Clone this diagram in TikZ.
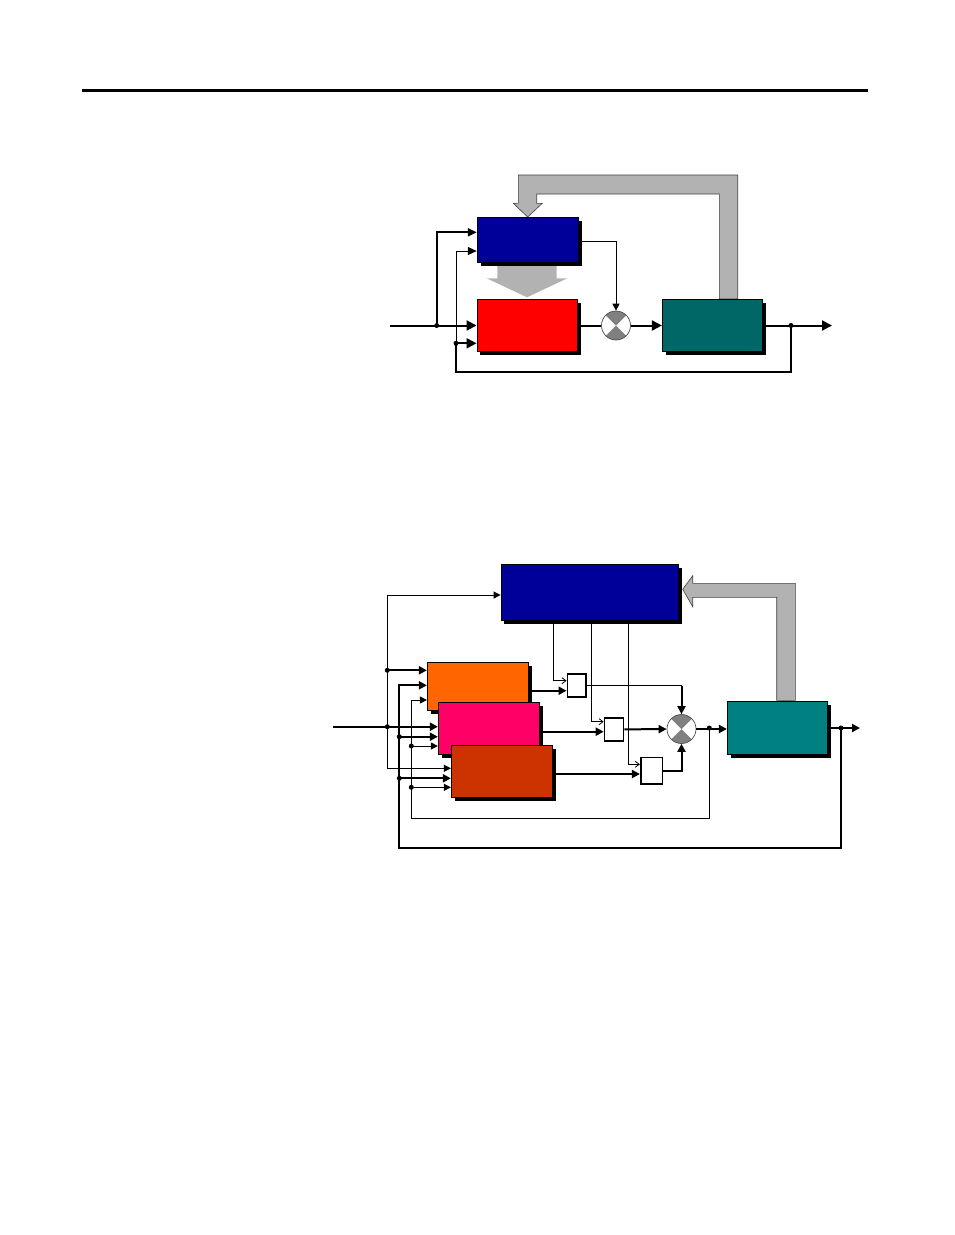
\documentclass[tikz,border=0pt]{standalone}
\usetikzlibrary{arrows.meta,shadows,calc}
\definecolor{blueA}{RGB}{0,0,153}
\definecolor{redA}{RGB}{255,0,0}
\definecolor{tealA}{RGB}{0,102,102}
\definecolor{tealB}{RGB}{0,128,128}
\definecolor{orangeA}{RGB}{255,102,0}
\definecolor{pinkA}{RGB}{255,0,102}
\definecolor{brownA}{RGB}{204,51,0}
\definecolor{bandgray}{RGB}{178,178,178}
\definecolor{sumgray}{RGB}{128,128,128}
\begin{document}
\begin{tikzpicture}[x=1pt,y=-1pt,
  box/.style={draw=black, line width=0.8pt, inner sep=0pt,
    drop shadow={shadow xshift=3.5pt, shadow yshift=-3.5pt, fill=black, opacity=1}},
  mbox/.style={draw=black, line width=1.6pt, fill=white, inner sep=0pt},
  sumj/.style={circle, draw=black!70, line width=0.7pt, fill=white, minimum size=29pt, inner sep=0pt,
    path picture={
      \fill[sumgray] (path picture bounding box.center) -- ++(-20pt,20pt) -- ++(40pt,0pt) -- cycle;
      \fill[sumgray] (path picture bounding box.center) -- ++(-20pt,-20pt) -- ++(40pt,0pt) -- cycle;
    }},
  dotn/.style={circle, fill=black, inner sep=0pt, minimum size=5pt},
  thkT/.style={line width=2pt, -{Triangle[length=10pt,width=10pt]}},
  thk/.style={line width=2pt, -{Triangle[length=8pt,width=8pt]}},
  thn/.style={line width=1pt, -{Triangle[length=7pt,width=7pt]}},
  opn/.style={line width=0.8pt, -{Straight Barb[length=4pt,width=6pt]}},
  band/.style={fill=bandgray, draw=black!75, line width=0.6pt}
]
\useasboundingbox (0,0) rectangle (954,1235);

% top rule
\draw[line width=3pt] (82,90.5) -- (868,90.5);

%%%%%%%%%%%%%%%% TOP DIAGRAM %%%%%%%%%%%%%%%%
% feedback band
\path[band] (737.7,299) -- (737.7,175) -- (518.3,175) -- (518.3,203.3) -- (513.3,203.3)
  -- (527.7,217) -- (542.3,203.3) -- (536.7,203.3) -- (536.7,194) -- (719.3,194) -- (719.3,299) -- cycle;
% middle arrow
\fill[bandgray] (497.3,266) -- (556.7,266) -- (556.7,278.3) -- (567.3,278.3) -- (527,297.3)
  -- (486.7,278.3) -- (497.3,278.3) -- cycle;

\node[box, fill=blueA, minimum width=101.7pt, minimum height=45.3pt] (ctrl1) at (528,239.7) {};
\node[box, fill=redA, minimum width=100.7pt, minimum height=52.3pt] (reg1) at (527.3,325.5) {};
\node[box, fill=tealA, minimum width=100.4pt, minimum height=52pt] (plant1) at (712.5,325.5) {};
\node[sumj] (sum1) at (616,325.5) {};

\coordinate (in1) at (390,325.5);
\coordinate (out1) at (832,325.5);
\node[dotn] (j1) at (436.7,325.5) {};
\node[dotn] (j2) at (456,343.3) {};
\node[dotn] (fb1) at (791,325.5) {};
\coordinate (fbc) at (456,372.3);

\draw[thkT] (in1) -- (in1 -| reg1.west);
\draw[line width=2pt, -{Triangle[length=9pt,width=8pt]}] (j1.center) |- ([yshift=7.4pt]ctrl1.west);
\draw[thn, -{Triangle[length=9pt,width=8pt]}] (j2.center) |- ([yshift=-11.3pt]ctrl1.west);
\draw[thkT] (j2.center) -- (j2 -| reg1.west);
\draw[line width=2pt] (fb1.center) |- (fbc) -- (j2.center);
\draw[line width=2pt] (reg1) -- (sum1);
\draw[thkT] (sum1) -- (plant1);
\draw[line width=1pt, -{Triangle[length=7pt,width=7pt]}] ([yshift=-2pt]ctrl1.east) -| (sum1);
\draw[line width=2pt, -{Triangle[length=10pt,width=10pt]}] (plant1) -- (out1);

%%%%%%%%%%%%%%%% BOTTOM DIAGRAM %%%%%%%%%%%%%%%%
\path[band] (795.3,700.3) -- (795.3,583.3) -- (692.7,583.3) -- (692.7,575.7) -- (682.7,589.3)
  -- (692.7,606.7) -- (692.7,597.3) -- (776.7,597.3) -- (776.7,700.3) -- cycle;

\node[box, fill=blueA, minimum width=177.7pt, minimum height=56.4pt] (ctrl2) at (589.8,592.5) {};
\node[box, fill=orangeA, minimum width=101.4pt, minimum height=48.4pt] (ordr) at (478,686.5) {};
\node[box, fill=pinkA, minimum width=101.4pt, minimum height=51.7pt] (pnk) at (489,728.2) {};
\node[box, fill=brownA, minimum width=101.4pt, minimum height=52.3pt] (brn) at (502,771.2) {};
\node[box, fill=tealB, minimum width=100pt, minimum height=53pt] (plant2) at (777.3,728) {};
\node[mbox, minimum width=18.7pt, minimum height=23.4pt] (m1) at (576.7,685.5) {};
\node[mbox, minimum width=19pt, minimum height=23.4pt] (m2) at (614,729.4) {};
\node[mbox, minimum width=21.6pt, minimum height=26.3pt] (m3) at (651.5,770.8) {};
\node[sumj] (sum2) at (681.5,729) {};

\coordinate (in2) at (333,726.7);
\coordinate (out2) at (860,728);
\node[dotn] (j7) at (387.3,726.7) {};
\node[dotn] (d387) at (387.3,670.3) {};
\coordinate (t387) at (387.3,595);
\coordinate (b387) at (387.3,768.3);
\node[dotn] (j5) at (709.3,728) {};
\node[dotn] (j6) at (841,728) {};
\coordinate (fb2c) at (411.3,818.3);
\coordinate (fb3c) at (399.3,848.3);
\node[dotn] (d411a) at (411.3,746) {};
\node[dotn] (d411b) at (411.3,787.3) {};
\node[dotn] (d399a) at (399.3,736.7) {};
\node[dotn] (d399b) at (399.3,778.3) {};
\coordinate (k1) at (681.5,685.5);

% input bus
\draw[thk] (in2) -- (in2 -| pnk.west);
\draw[thn] (b387) -- (t387) -- (t387 -| ctrl2.west);
\draw[thn] (b387) -- (b387 -| brn.west);
\draw[thk] (d387.center) -- (d387 -| ordr.west);

% thin feedback (before plant)
\draw[thn] (j5.center) |- (fb2c) |- ([yshift=-13.5pt]ordr.west);
\draw[thn] (d411a.center) -- (d411a -| pnk.west);
\draw[thn] (d411b.center) -- (d411b -| brn.west);

% thick feedback (plant output)
\draw[thk] (j6.center) |- (fb3c) |- ([yshift=1.2pt]ordr.west);
\draw[thk] (d399a.center) -- (d399a -| pnk.west);
\draw[thk] (d399b.center) -- (d399b -| brn.west);

% regulator outputs into multipliers
\draw[thk] ([yshift=-4.2pt]ordr.east) -- ([yshift=-4.2pt]ordr.east -| m1.west);
\draw[thk] ([yshift=-3.5pt]pnk.east) -- ([yshift=-3.5pt]pnk.east -| m2.west);
\draw[thk] ([yshift=-2.8pt]brn.east) -- ([yshift=-2.8pt]brn.east -| m3.west);

% weights from supervisor
\draw[opn] ([xshift=-36.5pt]ctrl2.south) |- ([yshift=4.8pt]m1.west);
\draw[opn] ([xshift=1.5pt]ctrl2.south) |- ([yshift=7.7pt]m2.west);
\draw[opn] ([xshift=38.5pt]ctrl2.south) |- ([yshift=6.5pt]m3.west);

% multipliers into sum
\draw[line width=1pt] (m1) -- (k1);
\draw[thk] (k1) -- (sum2);
\draw[thk] (m2) -- (sum2);
\draw[thk] (m3.east) -| (sum2);

% sum to plant, plant output
\draw[thk] (sum2.east) -- (sum2.east -| plant2.west);
\draw[thk] (plant2) -- (out2);
\end{tikzpicture}
\end{document}
